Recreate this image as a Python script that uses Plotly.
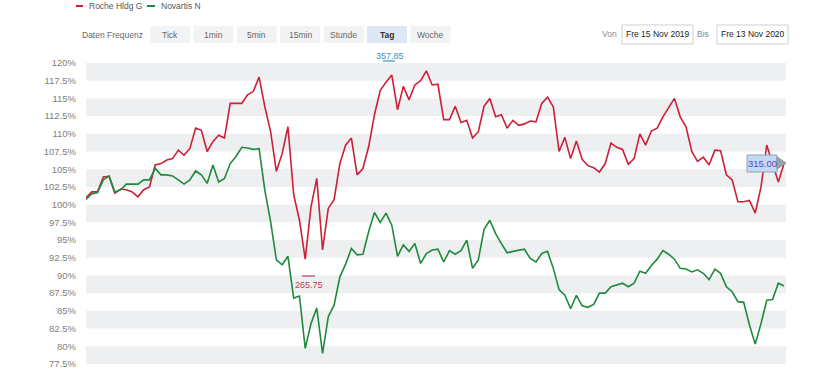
import plotly.graph_objects as go
import pandas as pd

# ---- data (% of start value) ----
dates = pd.date_range("2019-11-15", periods=122, freq="3D")

roche = [
    101.0, 101.8, 101.8, 103.9, 104.0, 101.6, 102.2, 102.1, 101.8, 101.1,
    102.1, 102.5, 105.6, 105.8, 106.3, 106.5, 107.7, 107.0, 107.9, 110.8,
    110.5, 107.5, 108.9, 109.8, 109.4, 114.3, 114.3, 114.3, 115.5, 116.0,
    118.0, 113.8, 110.3, 104.7, 107.2, 111.0, 101.4, 97.8, 92.3, 99.7,
    103.7, 93.6, 99.5, 100.7, 105.8, 108.4, 109.4, 104.2, 105.1, 108.2,
    112.7, 116.1, 117.3, 118.3, 113.4, 116.7, 114.8, 116.9, 117.5, 118.9,
    116.9, 117.0, 112.0, 112.0, 113.9, 111.6, 111.9, 109.4, 110.3, 113.9,
    115.0, 112.4, 112.7, 110.8, 111.9, 111.2, 111.4, 111.8, 111.7, 114.3,
    115.2, 113.8, 107.5, 109.5, 106.5, 109.0, 106.4, 105.5, 105.2, 104.6,
    105.8, 108.7, 108.1, 107.8, 105.7, 106.5, 110.0, 108.4, 110.4, 110.8,
    112.4, 113.8, 115.0, 112.4, 111.0, 107.5, 106.1, 106.7, 105.6, 107.7,
    107.6, 104.2, 103.5, 100.4, 100.4, 100.6, 98.8, 102.5, 108.4, 105.8,
    103.2, 105.8,
]

novartis = [
    100.75, 101.5, 101.7, 103.5, 104.05, 101.8, 102.1, 102.9, 102.9, 102.9,
    103.5, 103.5, 105.1, 104.2, 104.2, 104.05, 103.5, 102.9, 103.5, 104.75,
    104.2, 103.0, 105.6, 103.2, 103.7, 105.8, 106.8, 108.1, 108.0, 107.8,
    107.9, 102.0, 97.6, 92.2, 91.5, 92.7, 86.8, 87.1, 79.7, 83.2,
    85.4, 79.0, 84.2, 85.8, 89.8, 91.6, 93.8, 92.9, 93.0, 96.2,
    98.9, 97.5, 98.8, 97.1, 92.7, 94.3, 93.4, 94.5, 91.7, 93.1,
    93.6, 93.7, 91.9, 93.5, 93.0, 93.5, 95.0, 91.0, 92.2, 96.5,
    97.8, 95.9, 94.5, 93.2, 93.4, 93.6, 93.7, 92.4, 91.9, 93.1,
    93.4, 91.0, 88.0, 87.2, 85.3, 87.2, 85.7, 85.5, 85.9, 87.5,
    87.5, 88.4, 88.6, 88.9, 88.4, 88.9, 90.6, 90.3, 91.4, 92.3,
    93.5, 93.0, 92.3, 91.0, 90.9, 90.5, 90.8, 90.3, 89.4, 90.9,
    90.3, 88.4, 87.7, 86.3, 86.2, 83.0, 80.3, 83.2, 86.5, 86.6,
    88.9, 88.5,
]

y_ticks = [77.5, 80, 82.5, 85, 87.5, 90, 92.5, 95, 97.5, 100,
           102.5, 105, 107.5, 110, 112.5, 115, 117.5, 120]
y_tick_labels = ["77.5%", "80%", "82.5%", "85%", "87.5%", "90%", "92.5%", "95%", "97.5%", "100%",
                 "102.5%", "105%", "107.5%", "110%", "112.5%", "115%", "117.5%", "120%"]

series_names = ["Roche Hldg G", "Novartis N"]
high_label = "357.85"
low_label = "265.75"
last_label = "315.00"
buttons = ["Tick", "1min", "5min", "15min", "Stunde", "Tag", "Woche"]
active_button = "Tag"
date_from = "Fre 15 Nov 2019"
date_to = "Fre 13 Nov 2020"

RED = "#cc1f38"
GREEN = "#1f8a3c"
FONT = "Liberation Sans, Arial, sans-serif"

W, H = 830, 376
ML, MR, MT, MB = 86, 44, 55, 0
PW, PH = W - ML - MR, H - MT - MB


def px(x):
    return (x - ML) / PW


def py(y):
    return (H - y) / PH


fig = go.Figure()
fig.add_trace(go.Scatter(x=dates, y=roche, mode="lines", name=series_names[0],
                         line=dict(color=RED, width=1.6)))
fig.add_trace(go.Scatter(x=dates, y=novartis, mode="lines", name=series_names[1],
                         line=dict(color=GREEN, width=1.6)))

shapes = []
# alternating grey bands
for i in range(0, len(y_ticks) - 1, 2):
    shapes.append(dict(type="rect", xref="paper", yref="y", x0=0, x1=1,
                       y0=y_ticks[i], y1=y_ticks[i + 1], fillcolor="#eeeff1",
                       line=dict(width=0), layer="below"))

annotations = []

# legend-like header
shapes.append(dict(type="line", xref="paper", yref="paper", x0=px(76), x1=px(83),
                   y0=py(6), y1=py(6), line=dict(color=RED, width=2)))
annotations.append(dict(xref="paper", yref="paper", x=px(87), y=py(6), xanchor="left",
                        yanchor="middle", text=series_names[0], showarrow=False,
                        font=dict(size=8.5, color="#555", family=FONT)))
shapes.append(dict(type="line", xref="paper", yref="paper", x0=px(147), x1=px(155),
                   y0=py(6), y1=py(6), line=dict(color=GREEN, width=2)))
annotations.append(dict(xref="paper", yref="paper", x=px(159), y=py(6), xanchor="left",
                        yanchor="middle", text=series_names[1], showarrow=False,
                        font=dict(size=8.5, color="#555", family=FONT)))

# frequency buttons
annotations.append(dict(xref="paper", yref="paper", x=px(145), y=py(35), xanchor="right",
                        yanchor="middle", text="Daten Frequenz", showarrow=False,
                        font=dict(size=8.5, color="#666", family=FONT)))
for i, b in enumerate(buttons):
    left = 150 + 43.4 * i
    active = b == active_button
    shapes.append(dict(type="rect", xref="paper", yref="paper", x0=px(left), x1=px(left + 40),
                       y0=py(43), y1=py(26), fillcolor="#dde8f4" if active else "#f2f3f5",
                       line=dict(width=0)))
    annotations.append(dict(xref="paper", yref="paper", x=px(left + 20), y=py(35),
                            xanchor="center", yanchor="middle",
                            text=f"<b>{b}</b>" if active else b, showarrow=False,
                            font=dict(size=8.5, color="#333" if active else "#666", family=FONT)))

# date range boxes
annotations.append(dict(xref="paper", yref="paper", x=px(609), y=py(34), xanchor="center",
                        yanchor="middle", text="Von", showarrow=False,
                        font=dict(size=8.5, color="#888", family=FONT)))
shapes.append(dict(type="rect", xref="paper", yref="paper", x0=px(622), x1=px(693),
                   y0=py(44), y1=py(25), fillcolor="white", line=dict(color="#cfcfcf", width=1)))
annotations.append(dict(xref="paper", yref="paper", x=px(657.5), y=py(34), xanchor="center",
                        yanchor="middle", text=date_from, showarrow=False,
                        font=dict(size=8.5, color="#222", family=FONT)))
annotations.append(dict(xref="paper", yref="paper", x=px(703), y=py(34), xanchor="center",
                        yanchor="middle", text="Bis", showarrow=False,
                        font=dict(size=8.5, color="#888", family=FONT)))
shapes.append(dict(type="rect", xref="paper", yref="paper", x0=px(717), x1=px(788),
                   y0=py(44), y1=py(25), fillcolor="white", line=dict(color="#cfcfcf", width=1)))
annotations.append(dict(xref="paper", yref="paper", x=px(752.5), y=py(34), xanchor="center",
                        yanchor="middle", text=date_to, showarrow=False,
                        font=dict(size=8.5, color="#222", family=FONT)))

# high / low markers
annotations.append(dict(xref="paper", yref="paper", x=px(390), y=py(56), xanchor="center",
                        yanchor="middle", text=high_label, showarrow=False,
                        font=dict(size=9, color="#3d8fbf", family=FONT)))
shapes.append(dict(type="line", xref="paper", yref="paper", x0=px(383), x1=px(395),
                   y0=py(61), y1=py(61), line=dict(color="#3d8fbf", width=1.2)))
annotations.append(dict(xref="paper", yref="paper", x=px(309), y=py(285), xanchor="center",
                        yanchor="middle", text=low_label, showarrow=False,
                        font=dict(size=9, color="#c23a55", family=FONT)))
shapes.append(dict(type="line", xref="paper", yref="paper", x0=px(302), x1=px(315),
                   y0=py(276), y1=py(276), line=dict(color="#c23a55", width=1.2)))

# last value box
shapes.append(dict(type="rect", xref="paper", yref="paper", x0=px(747), x1=px(777),
                   y0=py(172), y1=py(155), fillcolor="#c3d8f1", line=dict(color="#8ea3b6", width=1)))
shapes.append(dict(type="path", xref="paper", yref="paper",
                   path=f"M {px(777)} {py(157)} L {px(786)} {py(163)} L {px(777)} {py(169)} Z",
                   fillcolor="#9aa3ab", line=dict(color="#8a939b", width=1)))
annotations.append(dict(xref="paper", yref="paper", x=px(762), y=py(163.5), xanchor="center",
                        yanchor="middle", text=last_label, showarrow=False,
                        font=dict(size=9.5, color="#5a4ccc", family=FONT)))

fig.update_layout(
    width=W, height=H,
    margin=dict(l=ML, r=MR, t=MT, b=MB),
    paper_bgcolor="white", plot_bgcolor="white",
    showlegend=False,
    font=dict(family=FONT, size=9.5, color="#777"),
    shapes=shapes, annotations=annotations,
    xaxis=dict(range=["2019-11-15", "2020-11-13"], showgrid=False, zeroline=False,
               showticklabels=False, showline=False, fixedrange=True),
    yaxis=dict(range=[75.80, 121.13], tickvals=y_ticks, ticktext=y_tick_labels,
               showgrid=False, zeroline=False, showline=False, ticks="",
               ticklabelstandoff=9, tickfont=dict(size=9.5, color="#808080", family=FONT),
               fixedrange=True),
    hovermode="x unified",
)

fig.write_html(
    "out.html",
    config={"displayModeBar": False},
    post_script="document.body.style.margin='0px';document.body.style.overflow='hidden';",
)
